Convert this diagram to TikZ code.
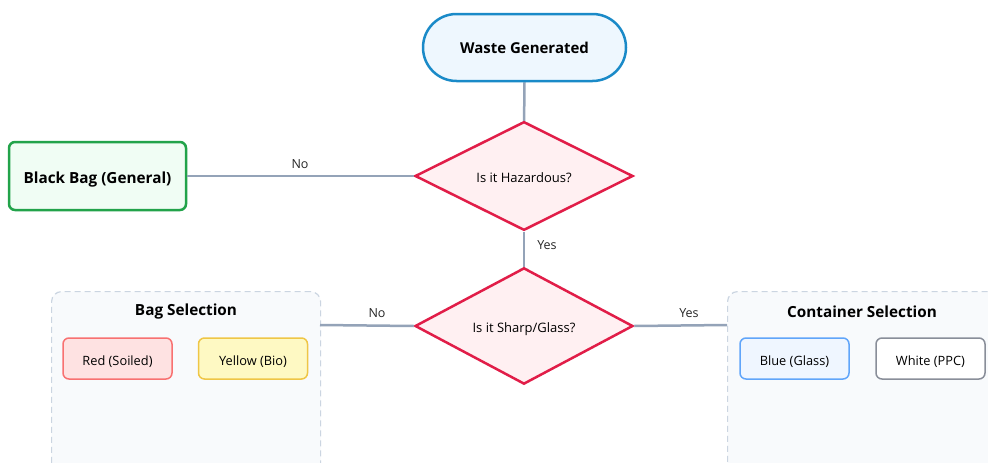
\documentclass[tikz,border=0pt]{standalone}
\usepackage{fontspec}
\setmainfont{Open Sans}
\usetikzlibrary{shapes.geometric,arrows.meta,backgrounds}
\definecolor{edgegray}{HTML}{94A3B8}
\definecolor{pillborder}{HTML}{1A8AC8}
\definecolor{pillfill}{HTML}{EEF7FE}
\definecolor{diaborder}{HTML}{E11D48}
\definecolor{diafill}{HTML}{FFF0F2}
\definecolor{greenborder}{HTML}{22A34A}
\definecolor{greenfill}{HTML}{F0FDF4}
\definecolor{clborder}{HTML}{CBD5E1}
\definecolor{clfill}{HTML}{F8FAFC}
\definecolor{redfill}{HTML}{FEE2E2}
\definecolor{redborder}{HTML}{F87171}
\definecolor{yelfill}{HTML}{FEF9C3}
\definecolor{yelborder}{HTML}{EAB308}
\definecolor{bluefill}{HTML}{EFF6FF}
\definecolor{blueborder}{HTML}{60A5FA}
\definecolor{grayborder}{HTML}{6B7280}
\tikzset{
  every node/.style={font=\fontsize{12}{14}\selectfont, inner sep=0pt},
  pill/.style={draw=pillborder, fill=pillfill, line width=2.5pt, rounded corners=33.5pt,
    minimum width=203pt, minimum height=67pt, font=\fontsize{15}{18}\selectfont\bfseries},
  decision/.style={diamond, draw=diaborder, fill=diafill, line width=2.5pt,
    minimum width=218pt, minimum height=108pt, font=\fontsize{13}{15}\selectfont,
    text height=13.5pt, text depth=0pt},
  greenbox/.style={draw=greenborder, fill=greenfill, line width=2.5pt, rounded corners=6pt,
    minimum width=177pt, minimum height=68pt, font=\fontsize{15.3}{18}\selectfont\bfseries,
    text height=15pt, text depth=0pt},
  cluster/.style={draw=clborder, fill=clfill, line width=1.2pt, dash pattern=on 6pt off 4pt,
    rounded corners=10pt},
  cltitle/.style={font=\fontsize{15.3}{18}\selectfont\bfseries},
  itembox/.style={line width=1.5pt, rounded corners=6pt, minimum width=109pt, minimum height=41pt,
    font=\fontsize{12.8}{15}\selectfont, text height=13pt, text depth=0pt},
  conn/.style={draw=edgegray, line width=2.5pt},
  lbl/.style={font=\fontsize{12.5}{14}\selectfont, text=black!85},
}
\begin{document}
\begin{tikzpicture}[x=1pt,y=-1pt]
\useasboundingbox (0,0) rectangle (988,463);
\clip (0,0) rectangle (988,463);
% clusters
\node[cluster, minimum width=269pt, minimum height=190pt, anchor=north west] (bagcl) at (51,291) {};
\node[cluster, minimum width=280pt, minimum height=190pt, anchor=north west] (contcl) at (727,291) {};
\node[cltitle] (bagtitle) at (186,312) {Bag Selection};
\node[cltitle] (conttitle) at (862,312) {Container Selection};
\node[itembox, draw=redborder, fill=redfill] (red) at (117.5,358.5) {Red (Soiled)};
\node[itembox, draw=yelborder!75, fill=yelfill] (yellow) at (253,358.5) {Yellow (Bio)};
\node[itembox, draw=blueborder, fill=bluefill] (blue) at (794.5,358.5) {Blue (Glass)};
\node[itembox, draw=grayborder!80, fill=white] (white) at (930.5,358.5) {White (PPC)};
% main nodes
\node[pill] (start) at (524.5,47.5) {Waste Generated};
\node[decision] (haz) at (524,176) {Is it Hazardous?};
\node[greenbox] (black) at (97.5,176) {Black Bag (General)};
\node[decision] (sharp) at (524,326) {Is it Sharp/Glass?};
\coordinate (bagin) at (320,325);
\coordinate (contin) at (727,325);
% edges
\begin{scope}[on background layer]
\fill[white] (0,0) rectangle (988,463);
\draw[conn, -{Latex[length=7pt,width=9pt]}] (start.south) -- ([yshift=-9pt]haz.north);
\draw[conn, -{Latex[length=7pt,width=9pt]}] (haz.south) -- ([yshift=-9pt]sharp.north);
\end{scope}
\draw[conn] (haz.west) -- (black.east);
\draw[conn] (sharp.west) -- (bagin);
\draw[conn] (sharp.east) -- (contin);
\node[lbl] (nolbl1) at (300,164) {No};
\node[lbl] (nolbl2) at (377,313) {No};
\node[lbl] (yeslbl2) at (689,313) {Yes};
\node[lbl] (yeslbl) at (547,245) {Yes};
\end{tikzpicture}
\end{document}
